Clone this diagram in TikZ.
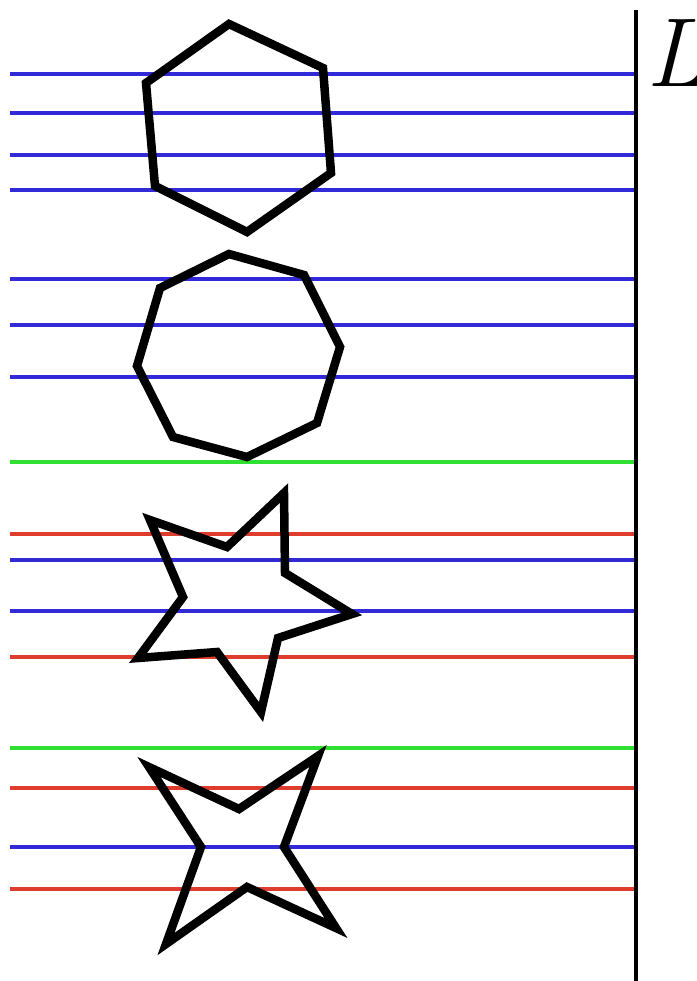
\documentclass[tikz,border=0pt]{standalone}
\usepackage{amsmath}
\usepackage{amssymb}
\usepackage{tikz}
\definecolor{rayblue}{RGB}{50,42,214}
\definecolor{raygreen}{RGB}{48,224,48}
\definecolor{rayred}{RGB}{222,60,44}
\tikzset{
  ray/.style = {line width = 4pt},
  outline/.style = {line width = 8.5pt, line join = miter, miter limit = 10}
}
\begin{document}
\begin{tikzpicture}[x = 1pt, y = -1pt]
\useasboundingbox (0,0) rectangle (696,981);
% screen
\draw [line width = 4pt] (636,10) -- (636,981);
\node [inner sep = 0pt, anchor = base west] (screen) at (646,87) {\fontsize{98}{98}\selectfont\itshape L};
% rays
\foreach \y in {74,113,155,190,279,325,377,560,611,847}
  \draw [ray, rayblue] (10,\y) -- (634,\y);
\foreach \y in {462,748}
  \draw [ray, raygreen] (10,\y) -- (634,\y);
\foreach \y in {534,657,788,889}
  \draw [ray, rayred] (10,\y) -- (634,\y);
% hexagon
\draw [outline] (229,24) -- (323,68) -- (331,173) -- (247,232) -- (155,186) -- (146,83) -- cycle;
% octagon
\draw [outline] (229,254) -- (304,275) -- (340,347) -- (317,423) -- (247,457) -- (173,437) -- (137,366) -- (160,288) -- cycle;
% star with five points
\draw [outline] (284,493) -- (285,573) -- (352,614) -- (278,638) -- (261,712) -- (217,652) -- (138,658) -- (183,597) -- (150,520) -- (227,547) -- cycle;
% star with four points
\draw [outline] (149,767) -- (239,809) -- (318,756) -- (284,847) -- (336,928) -- (247,887) -- (166,944) -- (201,847) -- cycle;
\end{tikzpicture}
\end{document}
